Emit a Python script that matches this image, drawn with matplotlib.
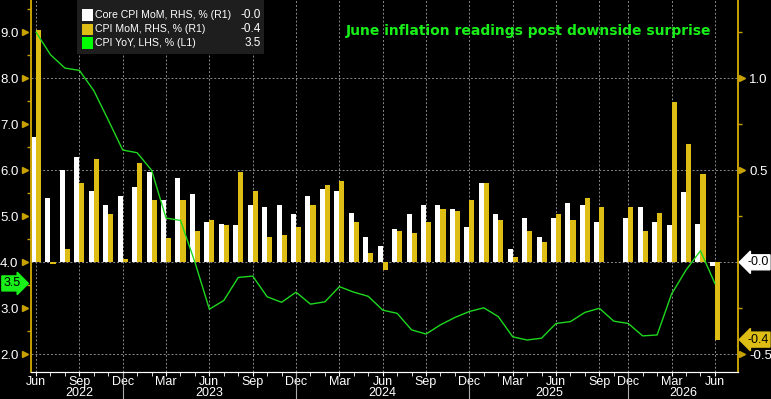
import numpy as np
import pandas as pd
import matplotlib
matplotlib.use("Agg")
import matplotlib.pyplot as plt
import matplotlib.transforms as mtransforms
from matplotlib.patches import Rectangle

plt.rcParams["font.family"] = ["Liberation Sans", "DejaVu Sans"]

# monthly releases, Oct 2025 missing (no print)
months = [p for p in pd.period_range("2022-06", "2026-06", freq="M") if str(p) != "2025-10"]

core_mom = [0.68, 0.35, 0.50, 0.57, 0.39, 0.31, 0.36, 0.41, 0.49, 0.34,
            0.46, 0.37, 0.22, 0.21, 0.20, 0.31, 0.30, 0.31, 0.26, 0.36,
            0.40, 0.39, 0.27, 0.14, 0.09, 0.18, 0.26, 0.31, 0.31, 0.29,
            0.19, 0.43, 0.26, 0.07, 0.24, 0.14, 0.24, 0.32, 0.31, 0.22,
            np.nan, 0.24, 0.30, 0.22, 0.20, 0.38, 0.21, -0.02]
cpi_mom = [1.26, -0.01, 0.07, 0.43, 0.56, 0.26, 0.02, 0.54, 0.34, 0.13,
           0.34, 0.17, 0.23, 0.20, 0.49, 0.39, 0.14, 0.15, 0.19, 0.31,
           0.42, 0.44, 0.22, 0.05, -0.04, 0.17, 0.16, 0.22, 0.29, 0.28,
           0.34, 0.43, 0.23, 0.03, 0.17, 0.11, 0.26, 0.23, 0.35, 0.30,
           np.nan, 0.30, 0.17, 0.27, 0.87, 0.64, 0.48, -0.42]
cpi_yoy = [9.00, 8.51, 8.22, 8.17, 7.73, 7.09, 6.44, 6.38, 6.00, 4.96,
           4.91, 4.00, 2.98, 3.17, 3.67, 3.70, 3.25, 3.13, 3.35, 3.09,
           3.14, 3.47, 3.35, 3.26, 2.96, 2.89, 2.53, 2.44, 2.64, 2.80,
           2.93, 3.01, 2.82, 2.38, 2.31, 2.35, 2.67, 2.71, 2.91, 3.00,
           2.72, 2.67, 2.40, 2.42, 3.31, 3.83, 4.25, 3.54]

title = "June inflation readings post downside surprise"
legend_labels = ["Core CPI MoM, RHS, % (R1)", "CPI MoM, RHS, % (R1)", "CPI YoY, LHS, % (L1)"]

YELLOW = "#DEBE14"
AXYEL = "#C8A200"
GREEN = "#1ED81E"
BRIGHT = "#19F019"

W, H = 771, 399
fig = plt.figure(figsize=(W / 100, H / 100), dpi=100, facecolor="black")
ax = fig.add_axes([31 / W, 27 / H, 707 / W, 372 / H], facecolor="black")
ax2 = ax.twinx()

x = np.arange(len(months))
ax.bar(x, core_mom, width=-0.35, align="edge", color="white", zorder=2)
ax.bar(x, cpi_mom, width=0.35, align="edge", color=YELLOW, zorder=2)
ax2.plot(x, cpi_yoy, color=GREEN, lw=1)

ax.set_xlim(-0.35, 48.6)
ax.set_ylim(-0.596, 1.425)
ax2.set_ylim(1.615, 9.70)

# right axis (bars)
ax.yaxis.tick_right()
ax.set_yticks([-0.5, 0, 0.5, 1.0])
ax.set_yticklabels(["-0.5", "", "0.5", "1.0"])
ax.set_yticks([-0.25, 0.25, 0.75, 1.25], minor=True)
ax.tick_params(axis="y", which="major", length=0, pad=8, labelcolor="white", labelsize=9.5)
ax.tick_params(axis="y", which="minor", length=3, color=AXYEL, width=1)

# left axis (line)
ax2.yaxis.tick_left()
ax2.set_yticks(np.arange(2, 10))
ax2.set_yticklabels([f"{v:.1f}" for v in np.arange(2, 10)])
ax2.set_yticks(np.arange(2.5, 9.6, 1.0), minor=True)
ax2.tick_params(axis="y", which="major", length=0, pad=9, labelcolor="white", labelsize=9.5)
ax2.tick_params(axis="y", which="minor", length=3, color=AXYEL, width=1)

# tick triangles
tr_l = mtransforms.blended_transform_factory(ax.transAxes, ax2.transData)
ax2.plot([-0.008] * 8, np.arange(2, 10), ls="none", marker=">", ms=4.5, color=AXYEL,
         transform=tr_l, clip_on=False)
tr_r = mtransforms.blended_transform_factory(ax.transAxes, ax.transData)
ax.plot([1.006] * 3, [-0.5, 0.5, 1.0], ls="none", marker=">", ms=4.5, color=AXYEL,
        transform=tr_r, clip_on=False)

# x axis
quarters = [i for i, p in enumerate(months) if p.month in (3, 6, 9, 12)]
ax.set_xticks(quarters)
ax.set_xticklabels([months[i].strftime("%b") for i in quarters])
ax.set_xticks(x, minor=True)
ax.tick_params(axis="x", which="major", length=3, color="white", labelcolor="white",
               labelsize=9, pad=0)
ax.tick_params(axis="x", which="minor", length=3, color="white")

trx = mtransforms.blended_transform_factory(ax.transData, ax.transAxes)
decs = [i for i, p in enumerate(months) if p.month == 12]
for d in decs:
    ax.plot([d, d], [0, -0.075], color="#AAAAAA", lw=0.8, transform=trx, clip_on=False)
bounds = [0] + decs + [ax.get_xlim()[1]]
years = [months[0].year] + [months[d].year + 1 for d in decs]
for (a, b), yr in zip(zip(bounds[:-1], bounds[1:]), years):
    ax.text((a + b) / 2, -0.057, str(yr), transform=trx, ha="center", va="center",
            color="white", fontsize=9)

# grid
ax.set_axisbelow(True)
ax.grid(True, which="major", color="#8A8A8A", lw=0.7, ls=(0, (2, 2)))

for a in (ax, ax2):
    a.spines["top"].set_visible(False)
    a.spines["left"].set_color(AXYEL)
    a.spines["right"].set_color(AXYEL)
    a.spines["bottom"].set_color("white")
    a.spines["left"].set_linewidth(1.2)
    a.spines["right"].set_linewidth(1.2)

# value tags
ax2.annotate(f"{cpi_yoy[-1]:.1f}", xy=(-0.027, cpi_yoy[-1]), xycoords=tr_l, ha="center", va="center",
             color="black", fontsize=9, annotation_clip=False,
             bbox=dict(boxstyle="rarrow,pad=0.12", fc=BRIGHT, ec=BRIGHT))
ax.annotate(f"{core_mom[-1]:.1f}", xy=(1.028, 0), xycoords=tr_r, ha="center", va="center",
            color="black", fontsize=9, annotation_clip=False,
            bbox=dict(boxstyle="larrow,pad=0.12", fc="white", ec="white"))
ax.annotate(f"{cpi_mom[-1]:.1f}", xy=(1.028, cpi_mom[-1]), xycoords=tr_r, ha="center", va="center",
            color="black", fontsize=9, annotation_clip=False,
            bbox=dict(boxstyle="larrow,pad=0.12", fc=YELLOW, ec=YELLOW))

# legend box
fig.patches.append(Rectangle((77 / W, 1 - 54 / H), 187 / W, 54 / H, transform=fig.transFigure,
                             fc="#1E1E1E", ec="none", zorder=5))
lcolors = ["white", YELLOW, "#00FF00"]
lvals = [core_mom[-1], cpi_mom[-1], cpi_yoy[-1]]
for k, (lab, c, v) in enumerate(zip(legend_labels, lcolors, lvals)):
    yc = 15 + 14 * k
    fig.text(95 / W, 1 - yc / H, lab, color="white", fontsize=7.6, va="center", ha="left", zorder=7)
    fig.patches.append(Rectangle((82 / W, 1 - (yc + 5.5) / H), 11 / W, 11 / H,
                                 transform=fig.transFigure, fc=c, ec="none", zorder=6))
    fig.text(261 / W, 1 - yc / H, f"{v:.1f}", color="white", fontsize=8.5, va="center", ha="right",
             zorder=7)

fig.text(529 / W, 1 - 31 / H, title, color=BRIGHT, fontsize=10, fontweight="bold",
         family="DejaVu Sans", ha="center", va="center")

fig.savefig("out.png", dpi=100, facecolor="black")
